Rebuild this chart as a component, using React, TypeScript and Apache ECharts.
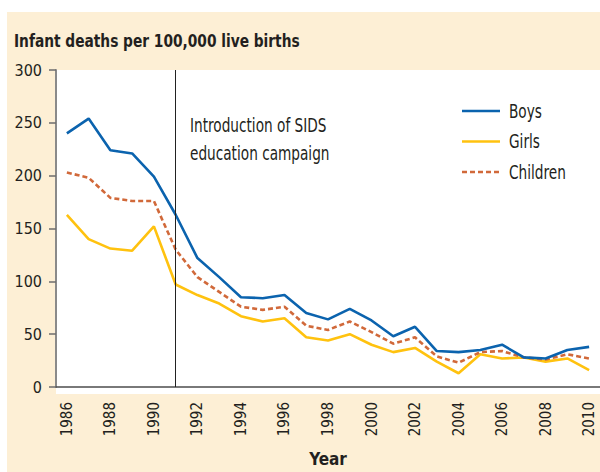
import React, { useEffect, useRef } from "react";
import * as echarts from "echarts";

const years = [
  "1986", "1987", "1988", "1989", "1990", "1991", "1992", "1993", "1994", "1995",
  "1996", "1997", "1998", "1999", "2000", "2001", "2002", "2003", "2004", "2005",
  "2006", "2007", "2008", "2009", "2010",
];
const boys = [240, 254, 224, 221, 199, 163, 122, 104, 85, 84, 87, 70, 64, 74, 63, 48, 57, 34, 33, 35, 40, 28, 27, 35, 38];
const girls = [163, 140, 131, 129, 152, 97, 87, 79, 67, 62, 65, 47, 44, 50, 40, 33, 37, 24, 13, 31, 27, 28, 24, 27, 16];
const children = [203, 198, 179, 176, 176, 130, 104, 90, 76, 73, 76, 58, 54, 62, 52, 41, 47, 29, 23, 33, 34, 28, 26, 31, 27];
const yTicks = { min: 0, max: 300, interval: 50 };
const titleText = "Infant deaths per 100,000 live births";
const noteText = "Introduction of SIDS\neducation campaign";
const campaignYear = "1991";
const seriesNames = ["Boys", "Girls", "Children"];
const seriesColors = ["#0b63ae", "#ffc20f", "#d1693a"];

const FONT = "'DejaVu Sans Condensed', 'Liberation Sans Narrow', sans-serif";
const BEIGE = "#fdefd5";
const TEXT = "#231f20";

export default function App() {
  const ref = useRef<HTMLDivElement>(null);
  useEffect(() => {
    if (!ref.current) return;
    const chart = echarts.init(ref.current, undefined, { renderer: "svg" });
    const legendGraphics: any[] = [];
    seriesNames.forEach((name, i) => {
      const cy = 111 + i * 30.5;
      legendGraphics.push({
        type: "line",
        z: 5,
        silent: true,
        shape: { x1: 462, y1: cy, x2: 500, y2: cy },
        style: {
          stroke: seriesColors[i],
          lineWidth: 2.6,
          lineDash: i === 2 ? [5, 3] : null,
        },
      });
      legendGraphics.push({
        type: "text",
        z: 5,
        silent: true,
        x: 509,
        y: cy,
        scaleX: 0.8,
        style: {
          text: name,
          font: "19px " + FONT,
          fill: TEXT,
          verticalAlign: "middle",
        },
      });
    });
    chart.setOption({
      animation: false,
      backgroundColor: "#ffffff",
      textStyle: { fontFamily: FONT },
      graphic: [
        {
          type: "rect",
          z: -10,
          silent: true,
          shape: { x: 7, y: 12, width: 593, height: 460 },
          style: { fill: BEIGE },
        },
        {
          type: "rect",
          z: -9,
          silent: true,
          shape: { x: 56, y: 70, width: 544, height: 324 },
          style: { fill: "#ffffff" },
        },
        {
          type: "text",
          z: 5,
          silent: true,
          x: 14,
          y: 41,
          scaleX: 0.9,
          style: {
            text: titleText,
            font: "bold 17px " + FONT,
            fill: TEXT,
            verticalAlign: "middle",
          },
        },
        {
          type: "text",
          x: 190,
          y: 111,
          z: 5,
          silent: true,
          scaleX: 0.8,
          style: {
            text: noteText,
            font: "19px " + FONT,
            fill: TEXT,
            lineHeight: 28,
          },
        },
        ...legendGraphics,
      ],
      grid: { left: 56, top: 70, width: 544, height: 324, containLabel: false },
      xAxis: {
        type: "category",
        data: years,
        boundaryGap: true,
        name: "Year",
        nameLocation: "middle",
        nameGap: 63,
        nameTextStyle: { fontFamily: FONT, fontSize: 17, fontWeight: "bold", color: TEXT },
        axisLine: { lineStyle: { color: "#4d4d4d", width: 1.5 } },
        axisTick: { alignWithLabel: true, interval: 0, length: 7, lineStyle: { color: "#6d6d6d", width: 1.5 } },
        axisLabel: { interval: 1, rotate: 90, margin: 15, fontFamily: FONT, fontSize: 15, color: TEXT },
        splitLine: { show: false },
      },
      yAxis: {
        type: "value",
        min: yTicks.min,
        max: yTicks.max,
        interval: yTicks.interval,
        axisLine: { show: true, lineStyle: { color: "#8a8a8a", width: 2 } },
        axisTick: { show: true, length: 7, lineStyle: { color: "#6d6d6d", width: 1.5 } },
        axisLabel: { margin: 14, fontFamily: FONT, fontSize: 16, color: TEXT },
        splitLine: { show: false },
      },
      series: [
        {
          name: seriesNames[0],
          type: "line",
          data: boys,
          symbol: "none",
          z: 4,
          lineStyle: { color: seriesColors[0], width: 2.6 },
          itemStyle: { color: seriesColors[0] },
          markLine: {
            silent: true,
            symbol: "none",
            label: { show: false },
            lineStyle: { color: "#222222", width: 1, type: "solid" },
            data: [{ xAxis: campaignYear }],
          },
        },
        {
          name: seriesNames[1],
          type: "line",
          data: girls,
          symbol: "none",
          z: 3,
          lineStyle: { color: seriesColors[1], width: 2.6 },
          itemStyle: { color: seriesColors[1] },
        },
        {
          name: seriesNames[2],
          type: "line",
          data: children,
          symbol: "none",
          z: 3,
          lineStyle: { color: seriesColors[2], width: 2.6, type: [5, 3] },
          itemStyle: { color: seriesColors[2] },
        },
      ],
    });
    return () => chart.dispose();
  }, []);
  return (
    <div
      ref={ref}
      style={{ position: "fixed", left: 0, top: 0, width: 600, height: 472 }}
    />
  );
}
